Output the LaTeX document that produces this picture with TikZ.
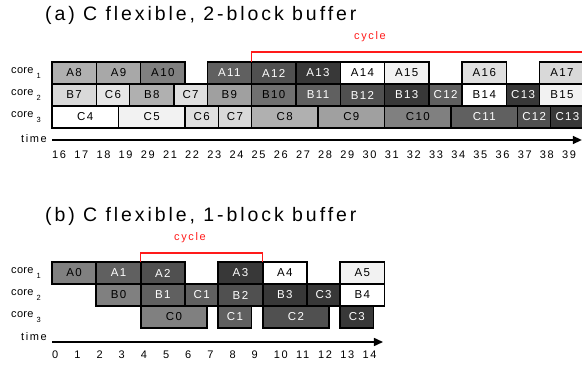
\documentclass[tikz,border=0pt]{standalone}
\usepackage{fontspec}
\setmainfont{Liberation Sans}
\newfontfamily\titlefont[LetterSpace=15]{Liberation Sans}
\newfontfamily\lblfont[LetterSpace=15]{Liberation Sans}
\newfontfamily\boxfont[LetterSpace=12]{Liberation Sans}
\newfontfamily\corefont[LetterSpace=3]{Liberation Sans}
\usetikzlibrary{arrows.meta}
\definecolor{gA}{HTML}{F2F2F2}
\definecolor{gB}{HTML}{E6E6E6}
\definecolor{gC}{HTML}{E0E0E0}
\definecolor{gD}{HTML}{D9D9D9}
\definecolor{gE}{HTML}{B0B0B0}
\definecolor{gF}{HTML}{A8A8A8}
\definecolor{gG}{HTML}{A0A0A0}
\definecolor{gH}{HTML}{808080}
\definecolor{gI}{HTML}{707070}
\definecolor{gJ}{HTML}{606060}
\definecolor{gK}{HTML}{505050}
\definecolor{gL}{HTML}{383838}
\definecolor{cyc}{HTML}{FF1A1A}
\newcommand\tbox[7]{\node[tbx, fill=#5, text=#6, minimum width={(#3-#2)*22.17pt}, anchor=north west] (#1) at (#2,#4) {#7};}
\newcommand\corelbl[1]{core\hspace{3pt}\raisebox{-4.5pt}{\fontsize{7.5}{8}\selectfont #1}}
\tikzset{
  tbx/.style={draw=black, line width=1.3pt, inner sep=0pt, outer sep=0pt, minimum height=22pt,
    font=\boxfont\fontsize{11.5}{13}\selectfont},
  numlbl/.style={anchor=west, inner sep=0pt, font=\lblfont\fontsize{11}{13}\selectfont},
  corelab/.style={anchor=west, inner sep=0pt, font=\corefont\fontsize{11}{13}\selectfont},
  timelab/.style={anchor=east, inner sep=0pt, font=\lblfont\fontsize{11}{13}\selectfont},
  title/.style={anchor=base west, inner sep=0pt, font=\titlefont\fontsize{19.5}{23}\selectfont},
  cyclab/.style={inner sep=0pt, text=cyc, font=\lblfont\fontsize{11}{13}\selectfont},
  cycline/.style={draw=cyc, line width=1.3pt},
  axis/.style={line width=1.5pt, -{Triangle[length=9pt,width=8pt]}}
}
\begin{document}
\begin{tikzpicture}[x=1pt,y=-1pt]
\useasboundingbox (0,0) rectangle (582,369);
% ---------- (a) ----------
\node[title] (ta) at (45,21) {(a) C flexible, 2-block buffer};
\node[cyclab] (cyca) at (370,37) {cycle};
\node[corelab] (ac1) at (11,73) {\corelbl{1}};
\node[corelab] (ac2) at (11,95) {\corelbl{2}};
\node[corelab] (ac3) at (11,117) {\corelbl{3}};
\node[timelab] (atime) at (47,139) {time};
\begin{scope}[x=22.17pt, shift={(-302.72pt,0pt)}]
 \tbox{aA8}{16}{18}{62}{gE}{black}{A8}
 \tbox{aA9}{18}{20}{62}{gF}{black}{A9}
 \tbox{aA10}{20}{22}{62}{gH}{black}{A10}
 \tbox{aA11}{23}{25}{62}{gJ}{white}{A11}
 \tbox{aA12}{25}{27}{62}{gK}{white}{A12}
 \tbox{aA13}{27}{29}{62}{gL}{white}{A13}
 \tbox{aA14}{29}{31}{62}{white}{black}{A14}
 \tbox{aA15}{31}{33}{62}{gA}{black}{A15}
 \tbox{aA16}{34.5}{36.5}{62}{gC}{black}{A16}
 \tbox{aA17}{38}{40}{62}{gD}{black}{A17}
 \tbox{aB7}{16}{18}{84}{gD}{black}{B7}
 \tbox{aC6}{18}{19.5}{84}{gB}{black}{C6}
 \tbox{aB8}{19.5}{21.5}{84}{gE}{black}{B8}
 \tbox{aC7}{21.5}{23}{84}{gC}{black}{C7}
 \tbox{aB9}{23}{25}{84}{gG}{black}{B9}
 \tbox{aB10}{25}{27}{84}{gI}{black}{B10}
 \tbox{aB11}{27}{29}{84}{gJ}{white}{B11}
 \tbox{aB12}{29}{31}{84}{gK}{white}{B12}
 \tbox{aB13}{31}{33}{84}{gL}{white}{B13}
 \tbox{aC12}{33}{34.5}{84}{gJ}{white}{C12}
 \tbox{aB14}{34.5}{36.5}{84}{white}{black}{B14}
 \tbox{aC13}{36.5}{38}{84}{gL}{white}{C13}
 \tbox{aB15}{38}{40}{84}{gA}{black}{B15}
 \tbox{aC4}{16}{19}{106}{white}{black}{C4}
 \tbox{aC5}{19}{22}{106}{gA}{black}{C5}
 \tbox{aC6b}{22}{23.5}{106}{gC}{black}{C6}
 \tbox{aC7b}{23.5}{25}{106}{gD}{black}{C7}
 \tbox{aC8}{25}{28}{106}{gE}{black}{C8}
 \tbox{aC9}{28}{31}{106}{gG}{black}{C9}
 \tbox{aC10}{31}{34}{106}{gH}{black}{C10}
 \tbox{aC11}{34}{37}{106}{gJ}{white}{C11}
 \tbox{aC12b}{37}{38.5}{106}{gK}{white}{C12}
 \tbox{aC13b}{38.5}{40}{106}{gL}{white}{C13}
 \coordinate (aax0) at (16,140);
 \coordinate (aax1) at (39.9,140);
 \coordinate (acycE) at (40,52);
 \foreach \t/\l in {16/16,17/17,18/18,19/19,20/29,21/21,22/22,23/23,24/24,25/25,26/26,27/27,28/28,29/29,30/30,31/31,32/32,33/33,34/34,35/35,36/36,37/37,38/38,39/39}
   \node[numlbl] (an\t) at (\t,155) {\l};
\end{scope}
\draw[axis] (aax0) -- (aax1);
\draw[cycline] (aA12.north west) |- (acycE);
% ---------- (b) ----------
\node[title] (tb) at (45,222) {(b) C flexible, 1-block buffer};
\node[cyclab] (cycb) at (190,238) {cycle};
\node[corelab] (bc1) at (11,273) {\corelbl{1}};
\node[corelab] (bc2) at (11,295) {\corelbl{2}};
\node[corelab] (bc3) at (11,317) {\corelbl{3}};
\node[timelab] (btime) at (47,337) {time};
\begin{scope}[x=22.17pt, shift={(52pt,0pt)}, tbx/.append style={line width=1.8pt}]
 \tbox{bA0}{0}{2}{262}{gH}{black}{A0}
 \tbox{bA1}{2}{4}{262}{gJ}{white}{A1}
 \tbox{bA2}{4}{6}{262}{gK}{white}{A2}
 \tbox{bA3}{7.5}{9.5}{262}{gL}{white}{A3}
 \tbox{bA4}{9.5}{11.5}{262}{white}{black}{A4}
 \tbox{bA5}{13}{15}{262}{gA}{black}{A5}
 \tbox{bB0}{2}{4}{284}{gH}{black}{B0}
 \tbox{bB1}{4}{6}{284}{gJ}{white}{B1}
 \tbox{bC1}{6}{7.5}{284}{gJ}{white}{C1}
 \tbox{bB2}{7.5}{9.5}{284}{gK}{white}{B2}
 \tbox{bB3}{9.5}{11.5}{284}{gL}{white}{B3}
 \tbox{bC3}{11.5}{13}{284}{gL}{white}{C3}
 \tbox{bB4}{13}{15}{284}{white}{black}{B4}
 \tbox{bC0}{4}{7}{306}{gH}{black}{C0}
 \tbox{bC1b}{7.5}{9}{306}{gJ}{white}{C1}
 \tbox{bC2}{9.5}{12.5}{306}{gK}{white}{C2}
 \tbox{bC3b}{13}{14.5}{306}{gL}{white}{C3}
 \coordinate (bax0) at (0,342);
 \coordinate (bax1) at (14.93,342);
 \coordinate (bcycT) at (4,253);
 \foreach \t in {0,...,14}
   \node[numlbl] (bn\t) at (\t,355) {\t};
\end{scope}
\draw[axis] (bax0) -- (bax1);
\draw[cycline] (bA2.north west) |- (bcycT) -| (bA4.north west);
\end{tikzpicture}
\end{document}
